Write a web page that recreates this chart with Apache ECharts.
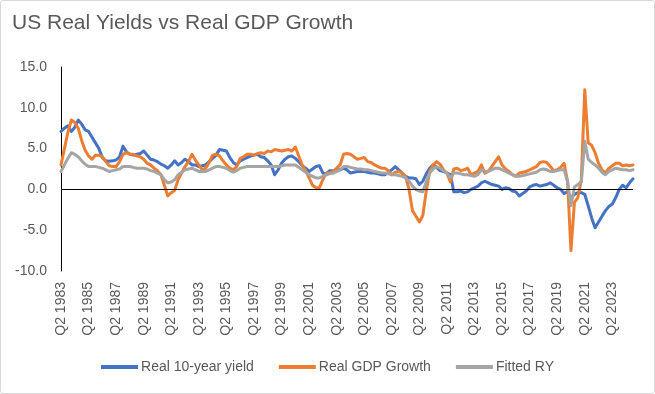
<!DOCTYPE html>
<html>
<head>
<meta charset="utf-8">
<script src="https://cdn.jsdelivr.net/npm/echarts@6/dist/echarts.min.js"></script>
<style>
html,body{margin:0;padding:0;background:#fff;}
#frame{position:absolute;left:0;top:0;width:655px;height:394px;box-sizing:border-box;border:1px solid #D9D9D9;border-radius:3px;}
#chart{position:absolute;left:0;top:0;width:655px;height:394px;}
</style>
</head>
<body>
<div id="frame"></div>
<div id="chart"></div>
<script>
// Quarterly categories: Q2 1983 ... Q4 2024
const categories = [];
for (let y = 1983; y <= 2024; y++) {
  for (let q = 1; q <= 4; q++) {
    if (y === 1983 && q < 2) continue;
    categories.push('Q' + q + ' ' + y);
  }
}

const realYield = [
  7.1,7.5,7.8,
  7.1,7.6,8.5,8.0, 7.3,7.1,6.4,5.7, 5.0,3.9,3.5,3.45, 3.5,3.6,4.0,5.3,
  4.6,4.3,4.2,4.3, 4.4,4.7,4.2,3.7, 3.6,3.4,3.1,2.9, 2.6,3.0,3.5,3.0,
  3.3,3.7,3.4,3.0, 3.0,2.8,2.9,3.0, 3.4,3.8,4.2,4.9, 4.8,4.7,3.9,3.3,
  3.0,3.5,3.7,3.9, 4.1,4.2,4.3,4.0, 3.9,3.5,3.0,1.8, 2.4,3.2,3.7,4.0,
  4.1,3.8,3.4,2.9, 2.6,2.2,2.5,2.8, 2.9,2.0,1.9,2.3, 2.3,2.4,2.4,2.6,
  2.4,2.0,2.1,2.2, 2.2,2.2,2.1,2.0, 2.0,1.9,1.8,1.8, 2.1,2.4,2.8,2.4,
  2.0,1.6,1.4,1.4, 1.3,0.6,1.0,1.9, 2.6,3.0,2.7,2.3, 2.2,2.0,1.8,-0.3,
  -0.3,-0.2,-0.4,-0.3, 0.0,0.2,0.4,0.8, 1.0,0.8,0.6,0.5, 0.4,0.0,0.2,0.1,
  -0.2,-0.3,-0.8,-0.5, -0.2,0.3,0.5,0.6, 0.4,0.5,0.6,0.8, 0.5,0.2,0.0,-0.5,
  -0.3,-1.0,-0.6,-0.4, -0.4,-0.6,-2.0,-3.5, -4.7,-4.0,-3.3,-2.6, -2.1,-1.8,-1.0,0.0,
  0.5,0.2,0.8,1.3
];

const realGdp = [
  3.0,5.0,7.0,
  8.5,8.2,7.5,6.0, 4.8,4.1,3.7,4.2, 4.2,4.0,3.4,2.9, 2.8,2.8,3.4,4.3,
  4.5,4.3,4.3,4.1, 4.0,3.7,3.2,3.0, 2.6,2.3,1.8,0.5, -0.8,-0.4,-0.1,1.2,
  2.0,2.8,3.4,4.3, 3.6,3.0,2.4,2.6, 3.3,4.2,4.3,4.1, 3.5,3.0,2.6,2.4,
  2.8,3.8,4.0,4.3, 4.3,4.2,4.4,4.5, 4.4,4.7,4.6,4.9, 4.8,4.7,4.8,4.9,
  4.7,5.2,4.1,3.0, 2.3,1.4,0.5,0.2, 0.2,1.2,2.0,2.0, 2.2,2.6,3.0,4.3,
  4.4,4.3,4.0,3.7, 3.8,3.9,3.4,3.3, 3.0,2.8,2.6,2.6, 2.3,1.8,2.1,2.2,
  2.0,1.6,0.0,-2.6, -3.3,-4.0,-3.2,-0.2, 2.2,3.0,3.4,3.1, 2.4,2.0,0.9,2.5,
  2.6,2.3,2.4,2.6, 1.8,2.0,2.2,3.0, 2.0,2.2,2.8,3.4, 4.0,3.0,2.5,2.2,
  1.8,1.6,2.0,2.1, 2.2,2.4,2.6,2.8, 3.3,3.4,3.3,2.8, 2.3,2.4,2.7,3.2,
  1.0,-7.5,-1.6,-1.0, 1.2,12.2,5.7,5.4, 4.5,3.2,2.4,2.0, 2.6,2.9,3.2,3.2,
  2.9,3.0,2.9,3.0
];

const fittedRY = [
  2.2,3.0,3.8,
  4.5,4.3,4.0,3.5, 3.1,2.8,2.8,2.8, 2.7,2.6,2.4,2.2, 2.3,2.4,2.5,2.8,
  2.8,2.8,2.7,2.6, 2.6,2.6,2.5,2.3, 2.2,2.0,1.8,1.2, 0.8,0.9,1.2,1.8,
  2.1,2.4,2.5,2.6, 2.4,2.2,2.2,2.2, 2.4,2.6,2.8,2.8, 2.7,2.6,2.3,2.1,
  2.3,2.6,2.7,2.8, 2.8,2.8,2.8,2.8, 2.8,2.8,2.8,2.8, 2.8,2.9,3.0,3.0,
  3.0,3.0,2.7,2.4, 2.1,1.8,1.6,1.4, 1.4,1.6,1.8,1.9, 2.0,2.2,2.4,2.8,
  2.8,2.7,2.6,2.5, 2.5,2.4,2.4,2.3, 2.2,2.1,2.0,2.0, 1.9,1.8,1.8,1.7,
  1.6,1.4,1.0,0.4, 0.0,-0.2,-0.3,0.9, 2.0,2.5,2.8,2.6, 2.3,2.0,1.4,2.0,
  2.0,1.9,1.8,1.8, 1.7,1.6,1.8,2.4, 2.2,2.2,2.4,2.6, 2.6,2.4,2.2,2.0,
  1.8,1.6,1.6,1.7, 1.8,1.9,2.0,2.1, 2.4,2.5,2.4,2.2, 2.2,2.3,2.4,2.4,
  1.0,-2.0,0.3,0.6, 0.9,5.9,3.7,3.3, 3.0,2.6,2.1,1.8, 2.2,2.4,2.6,2.5,
  2.4,2.4,2.3,2.4
];

const yTicks = { min: -10, max: 15, interval: 5 };

const FONT = 'Liberation Sans';
const TXT = '#595959';

const chart = echarts.init(document.getElementById('chart'), null, { renderer: 'canvas' });

function lineSeries(name, data, color, extra) {
  return Object.assign({
    name: name,
    type: 'line',
    data: data,
    symbol: 'none',
    smooth: false,
    lineStyle: { color: color, width: 3, cap: 'round', join: 'round' },
    itemStyle: { color: color },
    emphasis: { disabled: true },
    animation: false
  }, extra || {});
}

chart.setOption({
  animation: false,
  backgroundColor: 'transparent',
  title: {
    text: 'US Real Yields vs Real GDP Growth',
    left: 7,
    top: 8,
    textStyle: { fontFamily: FONT, fontSize: 21, fontWeight: 'normal', color: TXT }
  },
  grid: { left: 61, right: 22, top: 67, bottom: 123, containLabel: false },
  legend: {
    bottom: 15,
    left: 'center',
    icon: 'rect',
    itemWidth: 37,
    itemHeight: 4,
    itemGap: 25,
    textStyle: { fontFamily: FONT, fontSize: 14, color: TXT, padding: [0, 0, 0, -2] },
    data: ['Real 10-year yield', 'Real GDP Growth', 'Fitted RY']
  },
  xAxis: {
    type: 'category',
    data: categories,
    boundaryGap: false,
    axisLine: { show: false },
    axisTick: { show: false },
    splitLine: { show: false },
    axisLabel: {
      interval: 7,
      rotate: 90,
      margin: 11,
      fontFamily: FONT,
      fontSize: 14,
      color: TXT
    }
  },
  yAxis: {
    type: 'value',
    min: yTicks.min,
    max: yTicks.max,
    interval: yTicks.interval,
    axisLine: { show: true, lineStyle: { color: '#000', width: 1 } },
    axisTick: { show: false },
    splitLine: { show: false },
    axisLabel: {
      margin: 14,
      fontFamily: FONT,
      fontSize: 14,
      color: TXT,
      formatter: v => v.toFixed(1)
    }
  },
  series: [
    lineSeries('Real 10-year yield', realYield, '#4472C4', {
      markLine: {
        silent: true,
        symbol: 'none',
        label: { show: false },
        lineStyle: { color: '#000', width: 1, type: 'solid' },
        data: [{ yAxis: 0 }],
        animation: false
      }
    }),
    lineSeries('Real GDP Growth', realGdp, '#ED7D31'),
    lineSeries('Fitted RY', fittedRY, '#A5A5A5')
  ]
});
</script>
</body>
</html>
